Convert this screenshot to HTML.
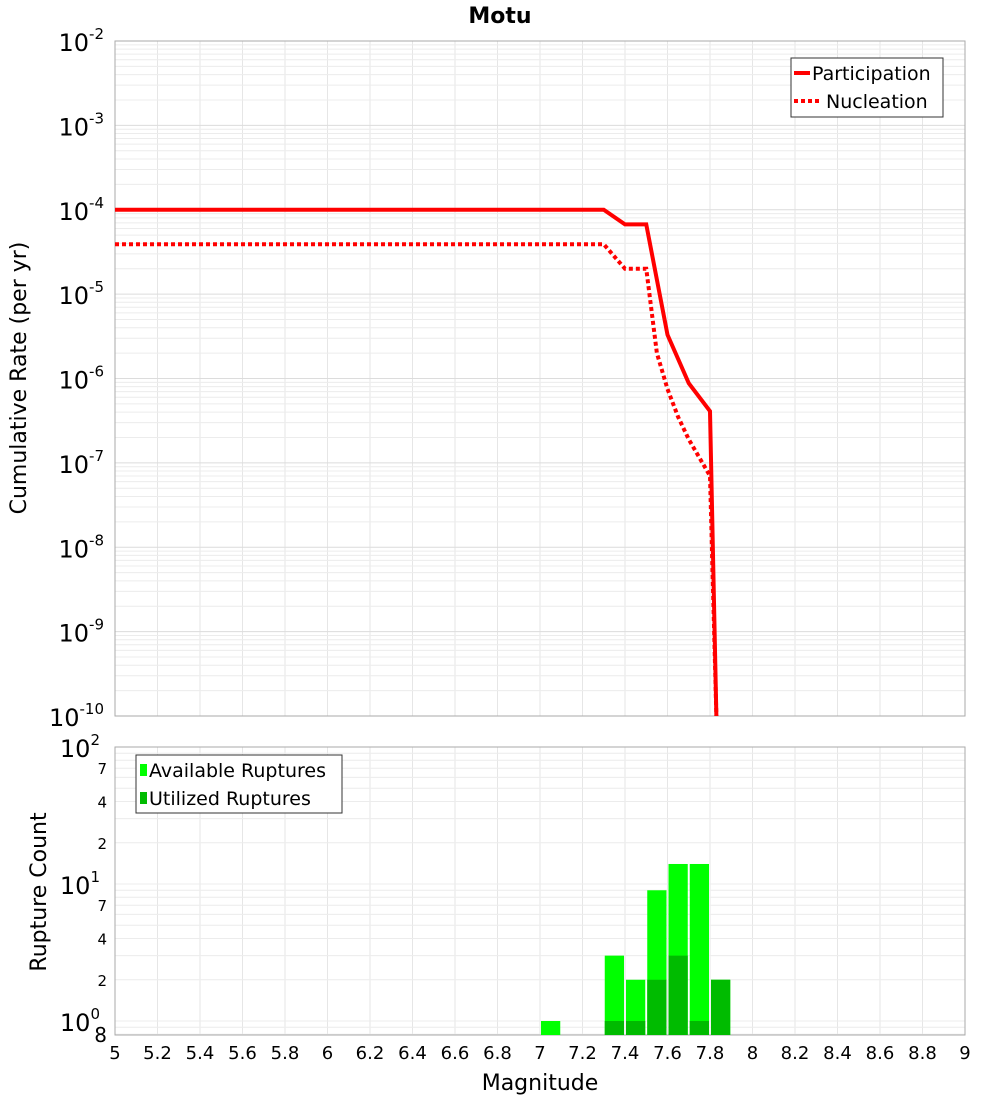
<!DOCTYPE html>
<html><head><meta charset="utf-8"><style>
body{margin:0;background:#fff;font-family:"Liberation Sans","DejaVu Sans",sans-serif}
svg text{font-family:"DejaVu Sans","Liberation Sans",sans-serif}
</style></head><body>
<svg id="c" width="1000" height="1100">
<text x="500" y="23" text-anchor="middle" font-size="22" font-weight="bold">Motu</text>
</svg>
<script>
const magsP=[5,7.3,7.4,7.5,7.6,7.7,7.8,7.83];
const partic=[1e-4,1e-4,6.7e-5,6.7e-5,3.3e-6,8.8e-7,4.1e-7,1e-10];
const magsN=[5,7.3,7.4,7.5,7.55,7.6,7.65,7.7,7.8,7.83];
const nucl=[3.9e-5,3.9e-5,2e-5,2e-5,2e-6,7.5e-7,3.5e-7,1.9e-7,7e-8,1e-10];
const binMags=[7.05,7.35,7.45,7.55,7.65,7.75,7.85];
const available=[1,3,2,9,14,14,2];
const utilized=[0,1,1,2,3,1,2];
const xTicks=[5,5.2,5.4,5.6,5.8,6,6.2,6.4,6.6,6.8,7,7.2,7.4,7.6,7.8,8,8.2,8.4,8.6,8.8,9];

const NS='http://www.w3.org/2000/svg';
const svg=document.getElementById('c');
function el(t,a,txt){const e=document.createElementNS(NS,t);for(const k in a)e.setAttribute(k,a[k]);if(txt!==undefined)e.textContent=txt;svg.appendChild(e);return e;}
const X0=115,X1=965;
const x=m=>X0+(m-5)/4*(X1-X0);
const T0=41,T1=716;
const yT=v=>T0+(-2-Math.log10(v))*(T1-T0)/8;
const B0=747,B1=1035,BD=137,BY0=1021;
const yB=v=>BY0-Math.log10(v)*BD;

for(let m=5;m<=9.001;m+=0.2){
 let g=el('line',{x1:x(m),x2:x(m),y1:T0,y2:T1,stroke:'#e6e6e6'});
 
 let g2=el('line',{x1:x(m),x2:x(m),y1:B0,y2:B1,stroke:'#e6e6e6'});
 
}
for(let d=-10;d<-2;d++)for(let k=1;k<10;k++){
 const yy=yT(k*Math.pow(10,d));
 let g=el('line',{x1:X0,x2:X1,y1:yy,y2:yy,stroke:k==1?'#dcdcdc':'#ececec'});
 
}
for(let d=-1;d<2;d++)for(let k=1;k<10;k++){
 const v=k*Math.pow(10,d);const yy=yB(v);
 if(yy<B0||yy>B1)continue;
 let g=el('line',{x1:X0,x2:X1,y1:yy,y2:yy,stroke:'#ececec'});
 
}
let f1=el('rect',{x:X0,y:T0,width:X1-X0,height:T1-T0,fill:'none',stroke:'#aaa'});

let f2=el('rect',{x:X0,y:B0,width:X1-X0,height:B1-B0,fill:'none',stroke:'#aaa'});


const defs=el('defs',{});
const cp=document.createElementNS(NS,'clipPath');cp.setAttribute('id','tc');
const cr=document.createElementNS(NS,'rect');cr.setAttribute('x',X0);cr.setAttribute('y',T0);cr.setAttribute('width',X1-X0);cr.setAttribute('height',T1-T0);
cp.appendChild(cr);defs.appendChild(cp);

const pp=el('polyline',{points:magsP.map((m,i)=>x(m)+','+yT(partic[i])).join(' '),fill:'none',stroke:'#ff0000','stroke-width':4,'clip-path':'url(#tc)'});

const pn=el('polyline',{points:magsN.map((m,i)=>x(m)+','+yT(nucl[i])).join(' '),fill:'none',stroke:'#ff0000','stroke-width':4,'stroke-dasharray':'4 3','clip-path':'url(#tc)'});


const bw=x(5.1)-x(5);
binMags.forEach((m,i)=>{
 const top=Math.max(yB(available[i]),B0);
 let b=el('rect',{x:x(m)-bw/2+1,y:top,width:bw-2,height:B1-top,fill:'#00ff00'});
 
 if(utilized[i]>0){const t2=yB(utilized[i]);
  let u=el('rect',{x:x(m)-bw/2+1,y:t2,width:bw-2,height:B1-t2,fill:'#00bb00'});
  }
});

for(let d=-10;d<=-2;d++){
 const yy=yT(Math.pow(10,d));
 const t=el('text',{x:104,y:yy+10,'text-anchor':'end','font-size':24});
 
 t.innerHTML='10<tspan dy="-12" font-size="15">'+d+'</tspan>';
}
[[1,'0'],[10,'1'],[100,'2']].forEach(([v,e])=>{
 const t=el('text',{x:100,y:yB(v)+10,'text-anchor':'end','font-size':24});
 
 t.innerHTML='10<tspan dy="-12" font-size="15">'+e+'</tspan>';
});
[2,4,7,20,40,70].forEach(v=>{
 const t=el('text',{x:107,y:yB(v)+6,'text-anchor':'end','font-size':15},String(v<10?v:v/10));
 
});
const t8=el('text',{x:107,y:1042,'text-anchor':'end','font-size':20},'8');

xTicks.forEach(m=>{
 const t=el('text',{x:x(m),y:1059,'text-anchor':'middle','font-size':18},String(+m.toFixed(1)));
 
});
</script>
<svg style="position:absolute;left:0;top:0" width="1000" height="1100">
<text x="540" y="1090" text-anchor="middle" font-size="22" font-family="DejaVu Sans, sans-serif">Magnitude</text>
<text transform="translate(26,378) rotate(-90)" text-anchor="middle" font-size="22" font-family="DejaVu Sans, sans-serif">Cumulative Rate (per yr)</text>
<text transform="translate(46,892) rotate(-90)" text-anchor="middle" font-size="22" font-family="DejaVu Sans, sans-serif">Rupture Count</text>
<g font-family="DejaVu Sans, sans-serif" font-size="19">
<rect x="791" y="58" width="152" height="59" fill="#fff" stroke="#333"/>
<line x1="794" y1="73" x2="810" y2="73" stroke="#f00" stroke-width="4"/>
<text x="812" y="80">Participation</text>
<line x1="794" y1="101" x2="822" y2="101" stroke="#f00" stroke-width="4" stroke-dasharray="4 3"/>
<text x="826" y="108">Nucleation</text>
</g>
<g font-family="DejaVu Sans, sans-serif" font-size="19">
<rect x="136" y="755" width="206" height="58" fill="#fff" stroke="#333"/>
<rect x="140" y="764" width="7" height="12" fill="#00ff00"/>
<text x="149" y="777">Available Ruptures</text>
<rect x="140" y="792" width="7" height="12" fill="#00bb00"/>
<text x="149" y="805">Utilized Ruptures</text>
</g>
</svg>
</body></html>
